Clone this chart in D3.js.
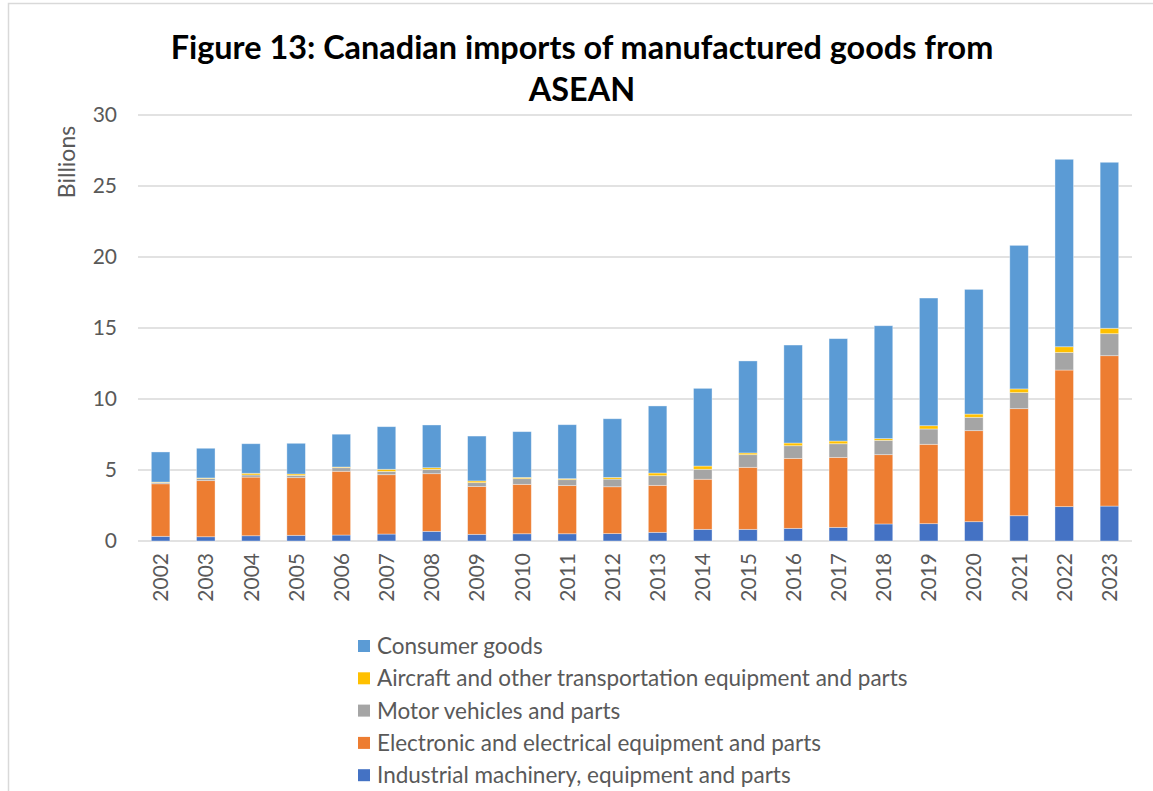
<!DOCTYPE html>
<html>
<head>
<meta charset="utf-8">
<script src="https://cdn.jsdelivr.net/npm/d3@7"></script>
<style>
  html, body { margin: 0; padding: 0; background: #fff; }
  svg { display: block; font-family: Lato, "Open Sans", sans-serif; }
</style>
</head>
<body>
<svg id="chart" width="1153" height="791"></svg>
<script>
// Canadian imports of manufactured goods from ASEAN, billions of dollars
const years = ["2002","2003","2004","2005","2006","2007","2008","2009","2010","2011","2012",
               "2013","2014","2015","2016","2017","2018","2019","2020","2021","2022","2023"];

const industrial = [0.33,0.30,0.37,0.40,0.42,0.49,0.68,0.47,0.51,0.51,0.52,0.61,0.82,0.82,0.89,0.96,1.20,1.22,1.36,1.78,2.42,2.46];
const electronic = [3.70,3.95,4.13,4.06,4.49,4.18,4.06,3.36,3.48,3.39,3.30,3.31,3.53,4.37,4.93,4.93,4.88,5.59,6.41,7.54,9.62,10.59];
const motor      = [0.08,0.15,0.15,0.16,0.25,0.23,0.30,0.28,0.40,0.42,0.54,0.68,0.70,0.89,0.89,0.96,1.01,1.08,0.94,1.13,1.24,1.55];
const aircraft   = [0.04,0.04,0.12,0.10,0.05,0.15,0.12,0.12,0.09,0.07,0.12,0.19,0.23,0.12,0.19,0.19,0.12,0.23,0.23,0.26,0.40,0.38];
const consumer   = [2.12,2.09,2.08,2.16,2.31,3.00,3.01,3.16,3.22,3.80,4.13,4.72,5.47,6.48,6.90,7.21,7.95,8.99,8.78,10.11,13.20,11.69];

const yTicks = [0, 5, 10, 15, 20, 25, 30];

// Stack order bottom to top
const seriesNames = [
  "Industrial machinery, equipment and parts",
  "Electronic and electrical equipment and parts",
  "Motor vehicles and parts",
  "Aircraft and other transportation equipment and parts",
  "Consumer goods"
];
const seriesValues = [industrial, electronic, motor, aircraft, consumer];
const seriesColors = ["#4472C4", "#ED7D31", "#A5A5A5", "#FFC000", "#5B9BD5"];

const rows = years.map((yr, i) => {
  const r = { year: yr };
  seriesNames.forEach((n, k) => { r[n] = seriesValues[k][i]; });
  return r;
});

const svg = d3.select("#chart");
const textColor = "#595959";
const gridColor = "#D9D9D9";

// Outer chart frame
svg.append("rect")
  .attr("x", 8.5).attr("y", 3.5)
  .attr("width", 1160).attr("height", 800)
  .attr("fill", "none").attr("stroke", gridColor).attr("stroke-width", 1.5);

const plot = { left: 138, right: 1132, top: 115, bottom: 541 };

const x = d3.scaleBand().domain(years).range([plot.left, plot.right]).paddingInner(0.59).paddingOuter(0.295);
const y = d3.scaleLinear().domain([0, 30]).range([plot.bottom, plot.top]);

// Gridlines
svg.append("g").selectAll("line").data(yTicks).join("line")
  .attr("x1", plot.left).attr("x2", plot.right)
  .attr("y1", d => y(d)).attr("y2", d => y(d))
  .attr("stroke", gridColor).attr("stroke-width", 1.5);

// Y axis tick labels
const yAxis = d3.axisLeft(y).tickValues(yTicks).tickSize(0).tickPadding(0);
svg.append("g").attr("transform", `translate(${plot.left - 21},0)`).call(yAxis)
  .call(g => g.select(".domain").remove())
  .selectAll("text")
  .attr("fill", textColor).style("font-size", "21px").style("font-family", "Lato, sans-serif");

// Y axis title
svg.append("text")
  .attr("transform", `translate(75,162) rotate(-90)`)
  .attr("text-anchor", "middle")
  .attr("fill", textColor).style("font-size", "23px")
  .text("Billions");

// Stacked bars
const stack = d3.stack().keys(seriesNames);
const layers = stack(rows);

svg.append("g").selectAll("g").data(layers).join("g")
  .attr("fill", (d, i) => seriesColors[i])
  .selectAll("rect").data(d => d).join("rect")
  .attr("x", d => x(d.data.year))
  .attr("width", x.bandwidth())
  .attr("y", d => y(d[1]))
  .attr("height", d => y(d[0]) - y(d[1]))
  .attr("stroke", "#ffffff").attr("stroke-opacity", 0.45).attr("stroke-width", 0.8);

// X axis labels (rotated)
const xAxis = d3.axisBottom(x).tickSize(0).tickPadding(0);
svg.append("g").attr("transform", `translate(0,${plot.bottom})`).call(xAxis)
  .call(g => g.select(".domain").remove())
  .selectAll("text")
  .attr("fill", textColor).style("font-size", "21px").style("font-family", "Lato, sans-serif")
  .attr("text-anchor", "end")
  .attr("transform", "rotate(-90)")
  .attr("x", -12).attr("y", 0).attr("dy", "0.36em");

// Title
const title = svg.append("text")
  .attr("text-anchor", "middle")
  .attr("fill", "#000").style("font-size", "32.4px").style("font-weight", "bold");
title.append("tspan").attr("x", 582).attr("y", 59).text("Figure 13: Canadian imports of manufactured goods from");
title.append("tspan").attr("x", 582).attr("y", 101).text("ASEAN");

// Legend (top to bottom: reverse stack order)
const legendOrder = [4, 3, 2, 1, 0];
const legend = svg.append("g").selectAll("g").data(legendOrder).join("g")
  .attr("transform", (d, i) => `translate(358,${646 + i * 32.3})`);
legend.append("rect")
  .attr("x", 0).attr("y", -6).attr("width", 12).attr("height", 12)
  .attr("fill", d => seriesColors[d]);
legend.append("text")
  .attr("x", 19).attr("y", 0).attr("dy", "0.36em")
  .attr("fill", textColor).style("font-size", "22.5px")
  .text(d => seriesNames[d]);
</script>
</body>
</html>
